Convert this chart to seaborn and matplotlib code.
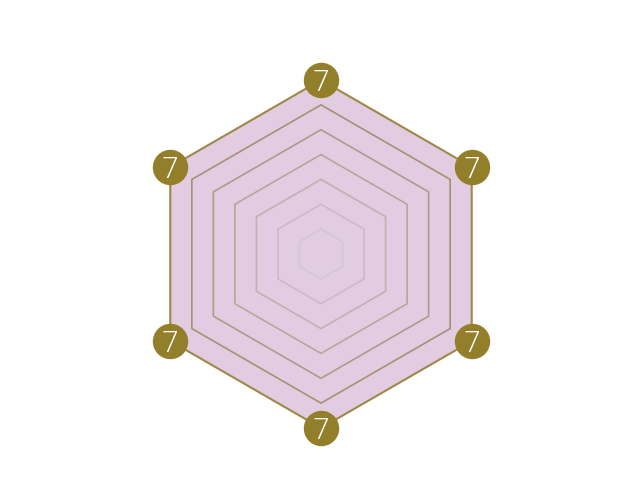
import numpy as np
import matplotlib
matplotlib.use("Agg")
import matplotlib.pyplot as plt
import seaborn as sns

# datos del radar
categorias = ["A", "B", "C", "D", "E", "F"]
valores = [7, 7, 7, 7, 7, 7]
niveles = [1, 2, 3, 4, 5, 6, 7]
etiquetas = ["7", "7", "7", "7", "7", "7"]

sns.set_style("white")
plt.rcParams["font.family"] = ["Open Sans", "DejaVu Sans"]

fig = plt.figure(figsize=(6.4, 5), dpi=100)
# centro en (321, 254) px, radio 174 px
ax = fig.add_axes([(321 - 174) / 640, (246 - 174) / 500, 348 / 640, 348 / 500], polar=True)
ax.set_theta_offset(np.pi / 2)
ax.set_theta_direction(-1)

angulos = np.linspace(0, 2 * np.pi, len(categorias), endpoint=False)
ang_cerrado = np.concatenate([angulos, angulos[:1]])

# relleno
val_cerrado = valores + valores[:1]
ax.fill(ang_cerrado, val_cerrado, color="#e2cce2", zorder=1)

# rejilla hexagonal, de clara a oscura
colores_rejilla = sns.blend_palette(["#d6c4da", "#a89070"], len(niveles) - 1)
for nivel, col in zip(niveles[:-1], colores_rejilla):
    ax.plot(ang_cerrado, [nivel] * len(ang_cerrado), color=col, lw=1.2, zorder=2)

# borde exterior
ax.plot(ang_cerrado, val_cerrado, color="#a08848", lw=1.5, zorder=3)

# marcadores con el valor
ax.scatter(angulos, valores, s=34 ** 2 * (72 / 100) ** 2, color="#937f2a", zorder=4, clip_on=False)
for a, v, t in zip(angulos, valores, etiquetas):
    ax.text(a, v, t, color="white", fontsize=21, fontweight="light",
            ha="center", va="center_baseline", zorder=5)

ax.set_ylim(0, 7)
ax.grid(False)
ax.spines["polar"].set_visible(False)
ax.set_xticks([])
ax.set_yticks([])
ax.set_facecolor("none")

fig.savefig("out.png", dpi=100)
